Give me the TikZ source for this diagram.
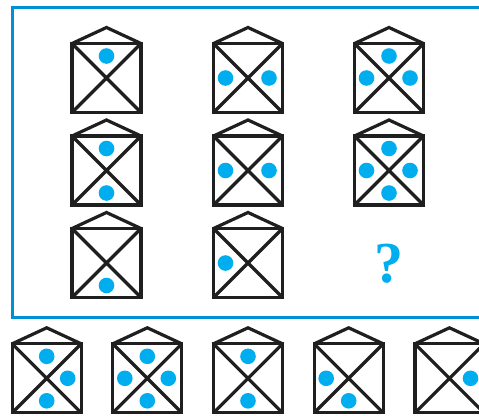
\documentclass[tikz,border=0pt]{standalone}
\usepackage{fontspec}
\newfontfamily\qfont{Liberation Serif}
\definecolor{framebl}{HTML}{0090D6}
\definecolor{dotbl}{HTML}{00AEEF}
\tikzset{
  envline/.style={line width=3.2pt, draw=black!88},
  dotfill/.style={fill=dotbl, draw=none},
  pics/envelope/.style={code={
    \draw[envline] (-34.5,-34.5) rectangle (34.5,34.5);
    \draw[envline] (-34.5,-34.5) -- (34.5,34.5) (-34.5,34.5) -- (34.5,-34.5);
    \draw[envline] (-34.5,-34.5) -- (0,-50.5) -- (34.5,-34.5);
  }},
  pics/dT/.style={code={\fill[dotfill] (0,-22) circle (7.8);}},
  pics/dB/.style={code={\fill[dotfill] (0,22.5) circle (7.8);}},
  pics/dL/.style={code={\fill[dotfill] (-22.5,0) circle (7.8);}},
  pics/dR/.style={code={\fill[dotfill] (21,0) circle (7.8);}}
}
\begin{document}
\begin{tikzpicture}[x=1pt,y=-1pt]
\clip (0,0) rectangle (479,415);
\fill[white] (0,0) rectangle (479,415);
% frame
\draw[framebl, line width=3pt] (490,7.5) -- (12.5,7.5) -- (12.5,317) -- (490,317);
% grid envelopes
\foreach \x/\y/\dots in {106.5/78/{dT}, 248/78/{dL,dR}, 389/78/{dT,dL,dR},
  106.5/170.5/{dT,dB}, 248/170.5/{dL,dR}, 389/170.5/{dT,dL,dR,dB},
  106.5/263/{dB}, 248/263/{dL},
  46.7/378.3/{dT,dR,dB}, 147.3/378.3/{dT,dL,dR,dB}, 248/378.3/{dT,dB},
  348.7/378.3/{dL,dB}, 449.5/378.3/{dR}}{
  \begin{scope}[shift={(\x,\y)}]
    \pic {envelope};
    \foreach \d in \dots { \pic {\d}; }
  \end{scope}
}
\node[text=dotbl, font=\qfont\fontsize{58}{62}\selectfont\bfseries] (q) at (388.5,263.5) {?};
\end{tikzpicture}
\end{document}
